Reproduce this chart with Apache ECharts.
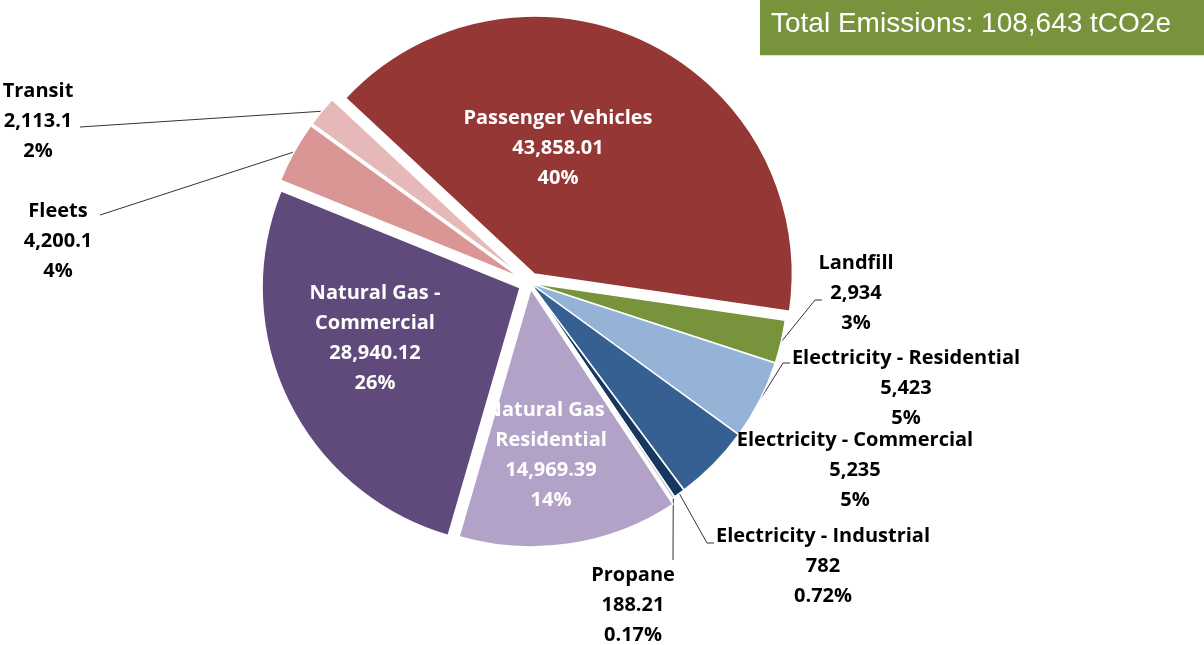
<!DOCTYPE html>
<html>
<head>
<meta charset="utf-8">
<script src="https://cdn.jsdelivr.net/npm/echarts@6/dist/echarts.min.js"></script>
<style>
  html, body { margin: 0; padding: 0; background: #fff; }
  #chart { width: 1204px; height: 645px; }
</style>
</head>
<body>
<div id="chart"></div>
<script>
// ---- data ----
const categories = [
  'Passenger Vehicles', 'Landfill', 'Electricity - Residential', 'Electricity - Commercial',
  'Electricity - Industrial', 'Propane', 'Natural Gas - Residential', 'Natural Gas - Commercial',
  'Fleets', 'Transit'
];
const emissions = [43858.01, 2934, 5423, 5235, 782, 188.21, 14969.39, 28940.12, 4200.1, 2113.1];
const shareLabels = ['40%', '3%', '5%', '5%', '0.72%', '0.17%', '14%', '26%', '4%', '2%'];
const totalLabel = 'Total Emissions: 108,643 tCO2e';

// ---- styles / layout ----
const colors = ['#953735', '#77933C', '#95B3D7', '#376092', '#17375E', '#CCC1DA', '#B3A2C7', '#604A7B', '#D99694', '#E6B9B8'];
const explode = [10, 0, 0, 0, 0, 0, 6, 11, 12, 12];
const insideLabel = [true, false, false, false, false, false, true, true, false, false];
const labelPos = [[558, 148], [856, 293], [906, 388], [855, 470], [823, 566], [633, 605], [551, 455], [375, 338], [58, 241], [38, 121]];
const leaderTail = [null, [[815, 300], [822, 300]], [[783, 363], [790, 363]], null, [[707, 543], [714, 543]], [[673, 560]], null, null, [[100, 215]], [[80, 127]]];
const baseCenter = [530, 283];
const radius = 258;
const startAngle = 137;

const total = emissions.reduce((a, b) => a + b, 0);
function fmt(v) { return v.toLocaleString('en-US', { maximumFractionDigits: 2 }); }
function labelName(n) { return n.indexOf('Natural Gas') === 0 ? n.replace(' - ', ' -\n') : n; }
function sliceCenter(k) {
  let cum = 0;
  for (let i = 0; i < k; i++) cum += emissions[i];
  const mid = (startAngle - (cum + emissions[k] / 2) / total * 360) * Math.PI / 180;
  return [baseCenter[0] + explode[k] * Math.cos(mid), baseCenter[1] - explode[k] * Math.sin(mid)];
}

const series = categories.map((_, k) => ({
  type: 'pie',
  name: categories[k],
  center: sliceCenter(k),
  radius: radius,
  startAngle: startAngle,
  clockwise: true,
  silent: true,
  animation: false,
  avoidLabelOverlap: false,
  data: categories.map((name, i) => ({
    name: name,
    value: emissions[i],
    itemStyle: i === k
      ? { color: colors[i], borderColor: '#ffffff', borderWidth: 1.5 }
      : { color: 'rgba(0,0,0,0)', borderWidth: 0 },
    label: {
      show: i === k,
      position: insideLabel[i] ? 'inside' : 'outside',
      color: insideLabel[i] ? '#ffffff' : '#000000',
      fontFamily: 'Open Sans',
      fontWeight: 'bold',
      fontSize: 20,
      lineHeight: 30,
      align: 'center',
      formatter: () => labelName(name) + '\n' + fmt(emissions[i]) + '\n' + shareLabels[i]
    },
    labelLine: {
      show: i === k && !!leaderTail[i],
      lineStyle: { color: '#333333', width: 1 }
    }
  })),
  labelLayout: function (p) {
    if (p.dataIndex !== k) return {};
    const out = { x: labelPos[k][0], y: labelPos[k][1], align: 'center', verticalAlign: 'middle' };
    if (leaderTail[k] && p.labelLinePoints) {
      out.labelLinePoints = [p.labelLinePoints[0]].concat(leaderTail[k]);
    }
    return out;
  }
}));

const chart = echarts.init(document.getElementById('chart'), null, { renderer: 'canvas' });
chart.setOption({
  backgroundColor: '#ffffff',
  animation: false,
  title: {
    text: totalLabel,
    left: 771,
    top: 10,
    padding: 0,
    textStyle: { color: '#ffffff', fontFamily: 'Liberation Sans', fontWeight: 'normal', fontSize: 28 }
  },
  graphic: [
    { type: 'rect', z: 0, silent: true, shape: { x: 760, y: 0, width: 444, height: 55 }, style: { fill: '#77933C' } },
    { type: 'line', z: 0, silent: true, shape: { x1: 760, y1: 55.5, x2: 1204, y2: 55.5 }, style: { stroke: '#d7e4bd', lineWidth: 1 } }
  ],
  series: series
});
</script>
</body>
</html>
